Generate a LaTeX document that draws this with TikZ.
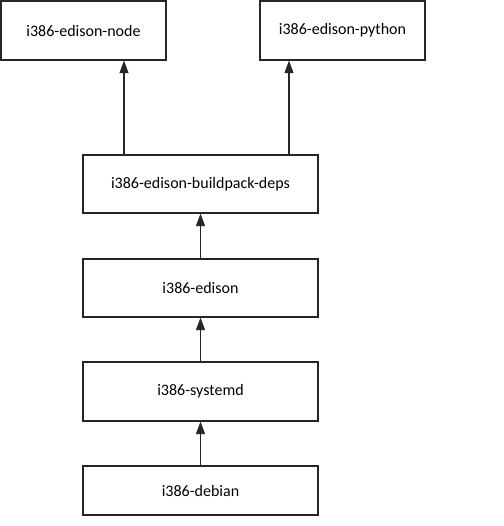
\documentclass[tikz,border=0pt]{standalone}
\usepackage{fontspec}
\setmainfont{Carlito}
\usetikzlibrary{arrows.meta}
\begin{document}
\begin{tikzpicture}[x=0.75pt,y=-0.75pt,
  box/.style={draw=black!85,line width=0.8pt,fill=white,inner sep=0pt,font=\fontsize{12}{14}\selectfont,text=black},
  arr/.style={draw=black!85,line width=0.8pt,-{Triangle[width=6.75pt,length=9.5pt]}}]
\useasboundingbox (0,0) rectangle (504,526);
\node[box,minimum width=165*0.75pt,minimum height=59*0.75pt] (nd) at (83.5,30.5) {i386-edison-node};
\node[box,minimum width=165*0.75pt,minimum height=59*0.75pt] (py) at (342.5,30.5) {i386-edison-python};
\node[box,minimum width=235*0.75pt,minimum height=58*0.75pt] (bp) at (200.5,184) {i386-edison-buildpack-deps};
\node[box,minimum width=235*0.75pt,minimum height=58*0.75pt] (ed) at (200.5,288) {i386-edison};
\node[box,minimum width=235*0.75pt,minimum height=59*0.75pt] (sd) at (200.5,391.5) {i386-systemd};
\node[box,minimum width=235*0.75pt,minimum height=49*0.75pt] (db) at (200.5,490.5) {i386-debian};
\coordinate (a1) at (124,0);
\coordinate (a2) at (289,0);
\draw[arr] (a1 |- bp.north) -- (a1 |- nd.south);
\draw[arr] (a2 |- bp.north) -- (a2 |- py.south);
\draw[arr] (ed.north) -- (bp.south);
\draw[arr] (sd.north) -- (ed.south);
\draw[arr] (db.north) -- (sd.south);
\end{tikzpicture}
\end{document}
